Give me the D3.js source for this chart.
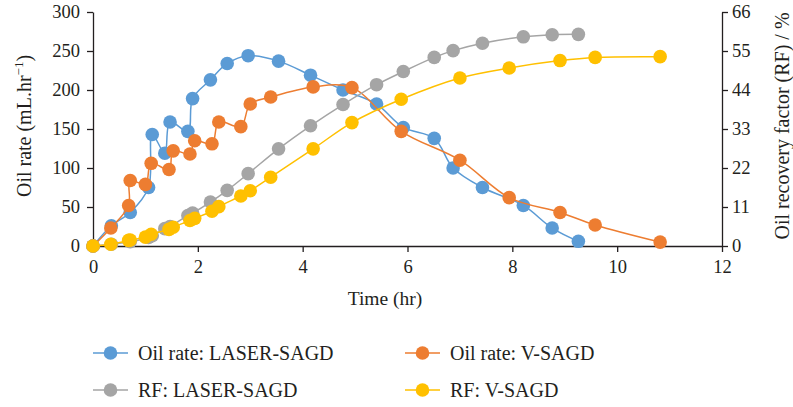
<!DOCTYPE html>
<html>
<head>
<meta charset="utf-8">
<script src="https://cdn.jsdelivr.net/npm/d3@7"></script>
<style>
  body { margin: 0; background: #fff; }
  text { font-family: "Liberation Serif", "DejaVu Serif", serif; fill: #231f20; }
</style>
</head>
<body>
<div id="chart"></div>
<script>
// Time (hr) for each method
var laserTime = [0, 0.35, 0.71, 1.06, 1.13, 1.37, 1.47, 1.81, 1.90, 2.24, 2.56, 2.96, 3.54, 4.15, 4.77, 5.41, 5.92, 6.51, 6.87, 7.43, 8.21, 8.76, 9.26];
var vsagdTime = [0, 0.34, 0.68, 0.71, 1.00, 1.11, 1.45, 1.53, 1.85, 1.94, 2.27, 2.40, 2.82, 3.00, 3.39, 4.20, 4.94, 5.88, 7.00, 7.94, 8.91, 9.58, 10.82];

// Oil rate (mL/hr)
var oilLaser = [0, 26, 43, 75, 143, 119, 159, 147, 189, 213, 234, 244, 237, 219, 200, 182, 152, 138, 100, 75, 52, 23, 6];
var oilVsagd = [0, 23, 52, 84, 79, 106, 98, 122, 118, 135, 131, 159, 153, 182, 191, 204, 203, 147, 110, 62, 43, 27, 5];

// Recovery factor (%)
var rfLaser = [0, 0.5, 1.2, 2.4, 2.9, 4.9, 5.5, 8.6, 9.3, 12.4, 15.7, 20.4, 27.4, 33.9, 39.9, 45.5, 49.2, 53.2, 55.1, 57.2, 59.0, 59.6, 59.7];
var rfVsagd = [0, 0.5, 1.6, 1.7, 2.5, 3.3, 4.7, 5.3, 7.2, 7.8, 9.8, 11.1, 14.1, 15.6, 19.4, 27.4, 34.8, 41.4, 47.4, 50.2, 52.3, 53.2, 53.4];

var xTicks = [0, 2, 4, 6, 8, 10, 12];
var oilTicks = [0, 50, 100, 150, 200, 250, 300];
var rfTicks = [0, 11, 22, 33, 44, 55, 66];

var seriesNames = ["Oil rate: LASER-SAGD", "Oil rate: V-SAGD", "RF: LASER-SAGD", "RF: V-SAGD"];
var seriesColors = ["#5b9bd5", "#ed7d31", "#a5a5a5", "#ffc000"];

var width = 793, height = 407;
var margin = { top: 12, left: 93, right: 71, bottom: 161 };

var svg = d3.select("#chart").append("svg")
    .attr("width", width)
    .attr("height", height);

var xScale = d3.scaleLinear().domain([0, 12]).range([margin.left, width - margin.right]);
var yOil = d3.scaleLinear().domain([0, 300]).range([height - margin.bottom, margin.top]);
var yRf = d3.scaleLinear().domain([0, 66]).range([height - margin.bottom, margin.top]);

function pts(times, vals) {
    return times.map(function(t, i) { return { t: t, v: vals[i] }; });
}

var series = [
    { data: pts(laserTime, oilLaser), y: yOil },
    { data: pts(vsagdTime, oilVsagd), y: yOil },
    { data: pts(laserTime, rfLaser), y: yRf },
    { data: pts(vsagdTime, rfVsagd), y: yRf }
];

// Axes
var axisColor = "#231f20";
function styleAxis(g) {
    g.select(".domain").attr("stroke", axisColor).attr("stroke-width", 1.3);
    g.selectAll(".tick line").attr("stroke", axisColor).attr("stroke-width", 1.3);
    g.selectAll("text").style("font-size", "18.5px").attr("fill", axisColor);
}

svg.append("g")
    .attr("transform", "translate(0," + (height - margin.bottom) + ")")
    .call(d3.axisBottom(xScale).tickValues(xTicks).tickSize(6).tickSizeOuter(0).tickPadding(8))
    .call(styleAxis);

svg.append("g")
    .attr("transform", "translate(" + margin.left + ",0)")
    .call(d3.axisLeft(yOil).tickValues(oilTicks).tickSize(6).tickSizeOuter(0).tickPadding(7))
    .call(styleAxis);

svg.append("g")
    .attr("transform", "translate(" + (width - margin.right) + ",0)")
    .call(d3.axisRight(yRf).tickValues(rfTicks).tickSize(6).tickSizeOuter(0).tickPadding(4))
    .call(styleAxis);

// Axis titles
svg.append("text")
    .attr("x", 385)
    .attr("y", 305)
    .attr("text-anchor", "middle")
    .style("font-size", "19.5px")
    .text("Time (hr)");

var leftTitle = svg.append("text")
    .attr("transform", "translate(31," + 126 + ") rotate(-90)")
    .attr("text-anchor", "middle")
    .style("font-size", "20px");
leftTitle.append("tspan").text("Oil rate (mL.hr");
leftTitle.append("tspan").attr("dy", -8).style("font-size", "13px").text("\u22121");
leftTitle.append("tspan").attr("dy", 8).text(")");

svg.append("text")
    .attr("transform", "translate(789," + 126 + ") rotate(-90)")
    .attr("text-anchor", "middle")
    .style("font-size", "20px")
    .text("Oil recovery factor (RF) / %");

// Lines and markers
series.forEach(function(s, i) {
    var line = d3.line()
        .x(function(d) { return xScale(d.t); })
        .y(function(d) { return s.y(d.v); })
        .curve(d3.curveCatmullRom.alpha(0.5));

    var g = svg.append("g");
    g.append("path")
        .datum(s.data)
        .attr("fill", "none")
        .attr("stroke", seriesColors[i])
        .attr("stroke-width", 1.5)
        .attr("d", line);

    g.selectAll("circle")
        .data(s.data)
        .enter()
        .append("circle")
        .attr("cx", function(d) { return xScale(d.t); })
        .attr("cy", function(d) { return s.y(d.v); })
        .attr("r", 6.8)
        .attr("fill", seriesColors[i]);
});

// Legend
var legendPos = [[93, 353], [405, 353], [93, 390], [405, 390]];
seriesNames.forEach(function(name, i) {
    var lg = svg.append("g")
        .attr("transform", "translate(" + legendPos[i][0] + "," + legendPos[i][1] + ")");
    lg.append("line")
        .attr("x1", 0).attr("x2", 35)
        .attr("stroke", seriesColors[i])
        .attr("stroke-width", 1.5);
    lg.append("circle")
        .attr("cx", 17.5)
        .attr("r", 6.8)
        .attr("fill", seriesColors[i]);
    lg.append("text")
        .attr("x", 45)
        .attr("dy", "0.35em")
        .style("font-size", "20px")
        .text(name);
});
</script>
</body>
</html>
